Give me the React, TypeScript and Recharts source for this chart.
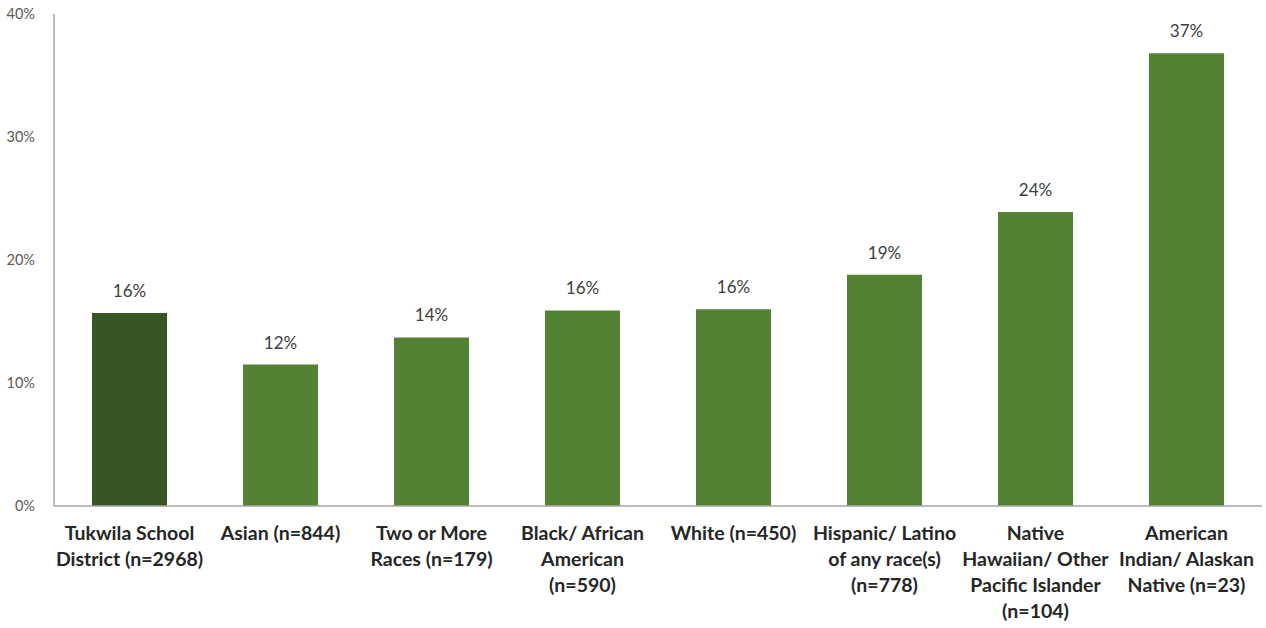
import React from "react";
import { BarChart, Bar, XAxis, YAxis, Cell, LabelList } from "recharts";

const categories: string[][] = [
  ["Tukwila School", "District (n=2968)"],
  ["Asian (n=844)"],
  ["Two or More", "Races (n=179)"],
  ["Black/ African", "American", "(n=590)"],
  ["White (n=450)"],
  ["Hispanic/ Latino", "of any race(s)", "(n=778)"],
  ["Native", "Hawaiian/ Other", "Pacific Islander", "(n=104)"],
  ["American", "Indian/ Alaskan", "Native (n=23)"],
];
const values: number[] = [15.7, 11.5, 13.7, 15.9, 16.0, 18.8, 23.9, 36.8];
const yTicks: number[] = [0, 10, 20, 30, 40];
const barColors: string[] = ["#375623", "#548235", "#548235", "#548235", "#548235", "#548235", "#548235", "#548235"];

const data = categories.map((c, i) => ({ name: String(i), value: values[i] }));

const FONT = "Lato, 'Open Sans', sans-serif";

const CatTick = (props: any) => {
  const { x, y, payload } = props;
  const lines = categories[Number(payload.value)] || [];
  return (
    <g transform={`translate(${x},${y})`}>
      {lines.map((l, i) => (
        <text
          key={i}
          x={0}
          y={26 + i * 26}
          textAnchor="middle"
          fontFamily={FONT}
          fontWeight="bold"
          fontSize={19.5}
          fill="#262626"
        >
          {l}
        </text>
      ))}
    </g>
  );
};

export default function App() {
  return (
    <div style={{ position: "absolute", left: 0, top: 0, background: "#fff" }}>
      <BarChart
        width={1266}
        height={628}
        data={data}
        margin={{ top: 14, right: 4, left: 0, bottom: 0 }}
      >
        <YAxis
          width={54}
          domain={[0, 40]}
          ticks={yTicks}
          tickFormatter={(v: number) => `${v}%`}
          axisLine={{ stroke: "#a6a6a6", strokeWidth: 1.5 }}
          tickLine={false}
          tick={{ fill: "#595959", fontSize: 14.5, fontFamily: FONT }}
          tickMargin={13}
        />
        <XAxis
          dataKey="name"
          height={122}
          interval={0}
          axisLine={{ stroke: "#a6a6a6", strokeWidth: 1.5 }}
          tickLine={false}
          tick={<CatTick />}
        />
        <Bar dataKey="value" barSize={75} isAnimationActive={false}>
          {data.map((d, i) => (
            <Cell key={i} fill={barColors[i]} />
          ))}
          <LabelList
            dataKey="value"
            position="top"
            offset={16}
            formatter={(v: any) => `${Math.round(Number(v))}%`}
            style={{ fill: "#404040", fontSize: 17, fontFamily: FONT }}
          />
        </Bar>
      </BarChart>
    </div>
  );
}
